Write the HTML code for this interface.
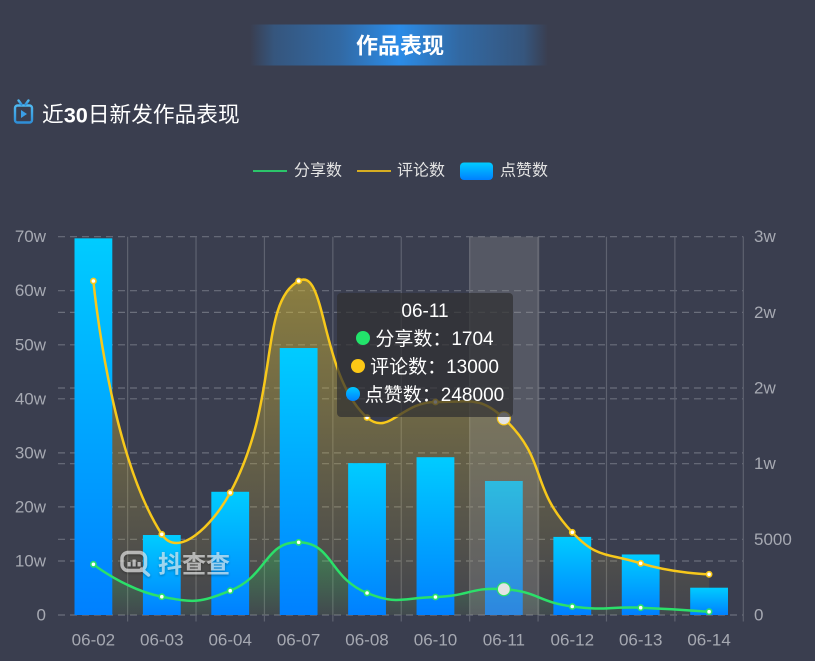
<!DOCTYPE html>
<html><head><meta charset="utf-8">
<style>
html,body{margin:0;padding:0;background:#3a3e4f;}
body{width:815px;height:661px;overflow:hidden;position:relative;font-family:"Liberation Sans","Noto Sans CJK SC",sans-serif;}
svg{position:absolute;left:0;top:0;}
.tt{position:absolute;left:337px;top:293px;width:176px;height:124px;background:rgba(48,48,50,0.72);border-radius:4px;box-sizing:border-box;padding-top:5px;color:#fff;font-size:19px;text-align:center;font-family:"Liberation Sans","Noto Sans CJK SC",sans-serif;}
.tt div{height:28px;line-height:28px;white-space:nowrap;}
.dot{display:inline-block;width:14px;height:14px;border-radius:7px;vertical-align:middle;margin-right:5px;position:relative;top:-2px;}
</style></head>
<body>
<svg width="815" height="661" viewBox="0 0 815 661" xmlns="http://www.w3.org/2000/svg">
<defs>
<linearGradient id="banner" x1="0" y1="0" x2="1" y2="0">
<stop offset="0" stop-color="#2b8ce8" stop-opacity="0"/>
<stop offset="0.08" stop-color="#2b8ce8" stop-opacity="0.3"/>
<stop offset="0.3" stop-color="#2b8ce8" stop-opacity="0.55"/>
<stop offset="0.5" stop-color="#2b8ce8" stop-opacity="1"/>
<stop offset="0.7" stop-color="#2b8ce8" stop-opacity="0.55"/>
<stop offset="0.92" stop-color="#2b8ce8" stop-opacity="0.3"/>
<stop offset="1" stop-color="#2b8ce8" stop-opacity="0"/>
</linearGradient>
<linearGradient id="barG" x1="0" y1="0" x2="0" y2="1">
<stop offset="0" stop-color="#00ccff"/>
<stop offset="1" stop-color="#0080ff"/>
</linearGradient>
<linearGradient id="yelA" x1="0" y1="0" x2="0" y2="1">
<stop offset="0" stop-color="#dcbe32" stop-opacity="0.5"/>
<stop offset="1" stop-color="#dcbe32" stop-opacity="0.05"/>
</linearGradient>
<linearGradient id="grnA" x1="0" y1="0" x2="0" y2="1">
<stop offset="0" stop-color="#22dc64" stop-opacity="0.35"/>
<stop offset="1" stop-color="#22dc64" stop-opacity="0.03"/>
</linearGradient>
<linearGradient id="tvG" x1="0" y1="0" x2="0" y2="1">
<stop offset="0" stop-color="#4fb8f0"/>
<stop offset="1" stop-color="#2f8fd8"/>
</linearGradient>
<filter id="wmShadow" x="-10%" y="-30%" width="130%" height="160%">
<feDropShadow dx="0" dy="1" stdDeviation="1.2" flood-color="#000" flood-opacity="0.45"/>
</filter>
</defs>

<!-- banner -->
<rect x="250" y="24.5" width="298" height="41" fill="url(#banner)"/>
<text x="400" y="46" text-anchor="middle" dominant-baseline="central" font-size="22" font-weight="bold" fill="#ffffff" font-family="Liberation Sans, Noto Sans CJK SC, sans-serif">作品表现</text>

<!-- subtitle icon -->
<g fill="none" stroke="url(#tvG)" stroke-width="2.4" stroke-linecap="round">
<rect x="15" y="105.5" width="17" height="17" rx="2.5"/>
<path d="M18.5 100.5 L21.5 104.5 M28.5 100.5 L25.5 104.5"/>
</g>
<path d="M21 110 L21 118 L27 114 Z" fill="#3a9ee6"/>
<text x="42" y="114.5" dominant-baseline="central" font-size="21.7" fill="#ffffff" font-family="Liberation Sans, Noto Sans CJK SC, sans-serif">近<tspan font-weight="bold">30</tspan>日新发作品表现</text>

<!-- legend -->
<line x1="253" y1="171" x2="287" y2="171" stroke="#2bc46a" stroke-width="2"/>
<text x="294" y="171" dominant-baseline="central" font-size="16" fill="#e4e4e4" font-family="Liberation Sans, Noto Sans CJK SC, sans-serif">分享数</text>
<line x1="357" y1="171" x2="391" y2="171" stroke="#d6ad22" stroke-width="2"/>
<text x="397" y="171" dominant-baseline="central" font-size="16" fill="#e4e4e4" font-family="Liberation Sans, Noto Sans CJK SC, sans-serif">评论数</text>
<rect x="460" y="162.5" width="33" height="17.5" rx="4" fill="url(#barG)"/>
<text x="500" y="171" dominant-baseline="central" font-size="16" fill="#e4e4e4" font-family="Liberation Sans, Noto Sans CJK SC, sans-serif">点赞数</text>

<!-- grid -->
<g id="grid"></g>

<!-- axis labels -->
<g font-size="17" fill="#a6a9b2" font-family="Liberation Sans, sans-serif" dominant-baseline="central">
<text x="46" y="236.7" text-anchor="end">70w</text>
<text x="46" y="290.7" text-anchor="end">60w</text>
<text x="46" y="344.8" text-anchor="end">50w</text>
<text x="46" y="398.8" text-anchor="end">40w</text>
<text x="46" y="452.9" text-anchor="end">30w</text>
<text x="46" y="506.9" text-anchor="end">20w</text>
<text x="46" y="561" text-anchor="end">10w</text>
<text x="46" y="615" text-anchor="end">0</text>
<text x="754" y="236.7">3w</text>
<text x="754" y="312.4">2w</text>
<text x="754" y="388">2w</text>
<text x="754" y="463.7">1w</text>
<text x="754" y="539.3">5000</text>
<text x="754" y="615">0</text>
<text x="93.4" y="640" text-anchor="middle">06-02</text>
<text x="161.8" y="640" text-anchor="middle">06-03</text>
<text x="230.2" y="640" text-anchor="middle">06-04</text>
<text x="298.6" y="640" text-anchor="middle">06-07</text>
<text x="367" y="640" text-anchor="middle">06-08</text>
<text x="435.5" y="640" text-anchor="middle">06-10</text>
<text x="503.9" y="640" text-anchor="middle">06-11</text>
<text x="572.3" y="640" text-anchor="middle">06-12</text>
<text x="640.7" y="640" text-anchor="middle">06-13</text>
<text x="709.1" y="640" text-anchor="middle">06-14</text>
</g>

<path id="yArea" fill="url(#yelA)" d=""/>
<path id="gArea" fill="url(#grnA)" d=""/>
<g id="bars"></g>
<rect x="469.5" y="236.7" width="69.8" height="378.3" fill="rgba(150,150,150,0.3)"/>
<path id="gLine" fill="none" stroke="#2be06a" stroke-width="2.5" d=""/>
<path id="yLine" fill="none" stroke="#f7c81b" stroke-width="2.5" d=""/>
<g id="syms"></g>

<!-- watermark -->
<g opacity="0.68" filter="url(#wmShadow)">
<g fill="none" stroke="#e8e8e8" stroke-width="3.4" stroke-linecap="round">
<rect x="122" y="552.5" width="23.5" height="18" rx="6"/>
<path d="M141.5 569 L148.5 575"/>
</g>
<g fill="#e8e8e8">
<rect x="127.5" y="562" width="3.2" height="4.5"/>
<rect x="132.5" y="559.5" width="3.2" height="7"/>
<rect x="137.5" y="562" width="3.2" height="4.5"/>
</g>
<text x="158" y="562" dominant-baseline="central" font-size="24" font-weight="bold" fill="#e8e8e8" font-family="Noto Sans CJK SC, sans-serif">抖查查</text>
</g>
</svg>

<div class="tt">
<div>06-11</div>
<div><span class="dot" style="background:#22e36b"></span>分享数：1704</div>
<div><span class="dot" style="background:#fcc816"></span>评论数：13000</div>
<div><span class="dot" style="background:linear-gradient(#00c8ff,#0080ff)"></span>点赞数：248000</div>
</div>

<script>
(function(){
var NS="http://www.w3.org/2000/svg";
function el(tag,attrs,parent){var e=document.createElementNS(NS,tag);for(var k in attrs)e.setAttribute(k,attrs[k]);parent.appendChild(e);return e;}
var X0=59.2,CW=68.41,Y0=615,YT=236.7,H=378.3;
function cx(i){return X0+CW*(i+0.5);}
var grid=document.getElementById('grid');
var left=[236.7,290.7,344.8,398.8,452.9,506.9,561.0,615];
var right=[312.4,388.0,463.7,539.3];
left.concat(right).forEach(function(y){
  el('line',{x1:58,y1:y,x2:743.3,y2:y,stroke:'#6b6f7c','stroke-width':1.2,'stroke-dasharray':'7 5'},grid);
});
for(var i=1;i<=10;i++){
  var x=X0+CW*i;
  el('line',{x1:x,y1:236.7,x2:x,y2:621.5,stroke:'#5e6270','stroke-width':1.2},grid);
}
var barsV=[697000,148000,228000,494000,281000,292000,248000,144500,112000,50500];
var bars=document.getElementById('bars');
barsV.forEach(function(v,i){
  var h=v/700000*H;
  el('rect',{x:cx(i)-18.9,y:Y0-h,width:37.8,height:h,fill:'url(#barG)'},bars);
});
var yY=[281,534.3,492.7,281,417.5,402,418.3,532.3,563.3,574.3];
var gY=[564.3,596.7,590.7,542.3,593,597,589.2,606.5,607.7,611.7];
function pts(arr){return arr.map(function(y,i){return [cx(i),y];});}
function smoothPath(p){
  var s=0.5,d='M'+p[0][0].toFixed(2)+','+p[0][1].toFixed(2);
  var cpx0=p[0][0],cpy0=p[0][1];
  for(var i=1;i<p.length;i++){
    var x=p[i][0],y=p[i][1],px=p[i-1][0],py=p[i-1][1];
    var vx=0,vy=0,ratio=0.5,ncx,ncy;
    if(i===p.length-1){ncx=x;ncy=y;}
    else{
      var nx=p[i+1][0],ny=p[i+1][1];
      vx=nx-px;vy=ny-py;
      var l0=Math.sqrt((x-px)*(x-px)+(y-py)*(y-py));
      var l1=Math.sqrt((nx-x)*(nx-x)+(ny-y)*(ny-y));
      ratio=l1/(l0+l1);
      ncx=x-vx*s*(1-ratio);ncy=y-vy*s*(1-ratio);
    }
    d+=' C'+cpx0.toFixed(2)+','+cpy0.toFixed(2)+' '+ncx.toFixed(2)+','+ncy.toFixed(2)+' '+x.toFixed(2)+','+y.toFixed(2);
    cpx0=x+vx*s*ratio;cpy0=y+vy*s*ratio;
  }
  return d;
}
var yp=pts(yY),gp=pts(gY);
var yd=smoothPath(yp),gd=smoothPath(gp);
document.getElementById('yLine').setAttribute('d',yd);
document.getElementById('gLine').setAttribute('d',gd);
var last=cx(9),first=cx(0);
document.getElementById('yArea').setAttribute('d',yd+' L'+last+','+Y0+' L'+first+','+Y0+' Z');
document.getElementById('gArea').setAttribute('d',gd+' L'+last+','+Y0+' L'+first+','+Y0+' Z');
var syms=document.getElementById('syms');
function addSyms(p,color){
  p.forEach(function(q,i){
    if(i===6){
      el('circle',{cx:q[0],cy:q[1],r:6.5,fill:'#e4e4e4',stroke:color,'stroke-width':1.2},syms);
    } else {
      el('circle',{cx:q[0],cy:q[1],r:2.6,fill:'#ffffff',stroke:color,'stroke-width':1.6},syms);
    }
  });
}
addSyms(gp,'#2be06a');
addSyms(yp,'#f7c81b');
})();
</script>
</body></html>
